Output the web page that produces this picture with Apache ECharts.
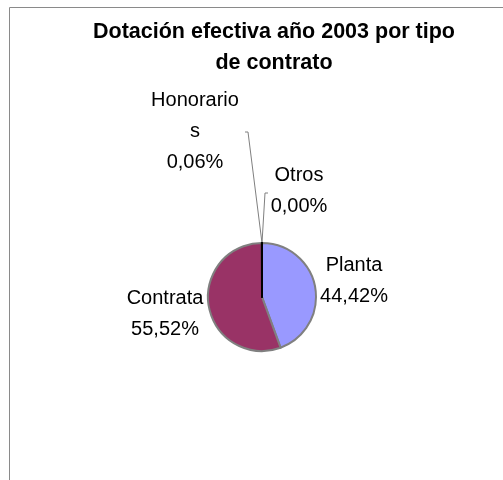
<!DOCTYPE html>
<html>
<head>
<meta charset="utf-8">
<script src="https://cdn.jsdelivr.net/npm/echarts@6/dist/echarts.min.js"></script>
<style>
html,body{margin:0;padding:0;background:#fff;}
#chart{width:503px;height:480px;}
</style>
</head>
<body>
<div id="chart"></div>
<script>
const titleText = 'Dotación efectiva año 2003 por tipo\nde contrato';
const categories = ['Planta', 'Contrata', 'Honorarios', 'Otros'];
const percentValues = [44.42, 55.52, 0.06, 0.00];
const sliceColors = ['#9999FF', '#993366', '#FFFFCC', '#CCFFFF'];

const cx = 262, cy = 297, r = 54;

const labelPos = {
  0: { x: 354, y: 281 },
  1: { x: 165, y: 314 },
  2: { x: 195, y: 131, line: [[248, 132], [245, 132]] },
  3: { x: 299, y: 191, line: [[265, 193], [268, 193]] }
};

const chart = echarts.init(document.getElementById('chart'), null, { renderer: 'canvas' });
const fmt = v => v.toFixed(2).replace('.', ',') + '%';

const data = categories.map((c, i) => {
  const item = {
    name: c,
    value: percentValues[i],
    itemStyle: { color: sliceColors[i] }
  };
  if (i >= 2) {
    item.itemStyle.borderColor = '#000';
    item.itemStyle.borderWidth = 2;
    item.labelLine = { show: true, lineStyle: { color: '#808080', width: 1 } };
  }
  if (i === 2) {
    item.label = { width: 92, overflow: 'breakAll' };
  }
  return item;
});

chart.setOption({
  backgroundColor: '#ffffff',
  animation: false,
  title: {
    text: titleText,
    left: 274,
    top: 17,
    padding: 0,
    textAlign: 'center',
    textStyle: {
      fontFamily: 'Liberation Sans',
      fontWeight: 'bold',
      fontSize: 21.5,
      lineHeight: 31,
      color: '#000'
    }
  },
  graphic: [{
    type: 'rect',
    shape: { x: 9.5, y: 7.5, width: 600, height: 600 },
    style: { fill: null, stroke: '#8a8a8a', lineWidth: 1 },
    silent: true
  }],
  series: [{
    type: 'pie',
    center: [cx, cy],
    radius: [0, r],
    startAngle: 90,
    clockwise: true,
    avoidLabelOverlap: false,
    minShowLabelAngle: 0,
    itemStyle: { borderColor: '#808080', borderWidth: 2 },
    label: {
      show: true,
      position: 'outside',
      fontFamily: 'Liberation Sans',
      fontSize: 20,
      lineHeight: 31,
      color: '#000',
      align: 'center',
      formatter: p => p.name + '\n' + fmt(p.value)
    },
    labelLine: { show: false },
    labelLayout: function (params) {
      const p = labelPos[params.dataIndex];
      const out = { x: p.x, y: p.y, align: 'center', verticalAlign: 'middle' };
      if (p.line) {
        out.labelLinePoints = [[cx, cy - r], p.line[0], p.line[1]];
      }
      return out;
    },
    data: data
  }]
});
</script>
</body>
</html>
